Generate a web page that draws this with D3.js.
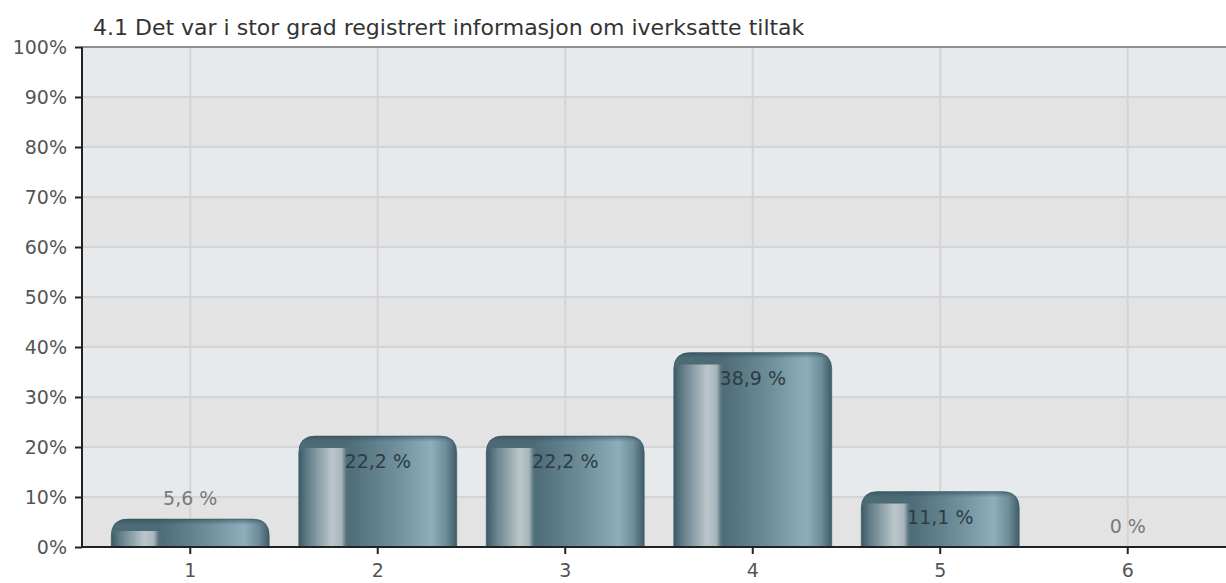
<!DOCTYPE html>
<html>
<head>
<meta charset="utf-8">
<script src="https://cdn.jsdelivr.net/npm/d3@7"></script>
<style>
  html, body { margin: 0; padding: 0; background: #fff; }
  #chart { width: 1226px; height: 583px; }
  text { font-family: "DejaVu Sans", sans-serif; }
</style>
</head>
<body>
<div id="chart"></div>
<script>
// chart data
const title = '4.1 Det var i stor grad registrert informasjon om iverksatte tiltak';
const categories = ['1', '2', '3', '4', '5', '6'];
const values = [5.6, 22.2, 22.2, 38.9, 11.1, 0];
const yTicks = [0, 10, 20, 30, 40, 50, 60, 70, 80, 90, 100];

const width = 1226;
const height = 583;
const plot = { left: 82, right: 1226, top: 47, bottom: 547 };

const svg = d3.select('#chart')
  .append('svg')
  .attr('width', width)
  .attr('height', height)
  .attr('viewBox', `0 0 ${width} ${height}`);

const defs = svg.append('defs');

// horizontal shading of the bars
const barGrad = defs.append('linearGradient')
  .attr('id', 'barGrad')
  .attr('x1', '0%').attr('x2', '100%').attr('y1', '0%').attr('y2', '0%');
[
  [0, '#3b5966'], [0.05, '#5f7a85'], [0.14, '#93a6ad'], [0.21, '#bac6ca'],
  [0.27, '#a8b6bb'], [0.30, '#56737e'], [0.32, '#4e6d79'], [0.6, '#6d8d99'],
  [0.84, '#8eaebb'], [0.93, '#6f8e9b'], [1, '#3f5c68'],
].forEach(([o, c]) => barGrad.append('stop').attr('offset', o).attr('stop-color', c));

// thin darker rim at the top of the bars
const capGrad = defs.append('linearGradient')
  .attr('id', 'capGrad')
  .attr('x1', '0%').attr('x2', '0%').attr('y1', '0%').attr('y2', '100%');
capGrad.append('stop').attr('offset', 0).attr('stop-color', '#2c4752').attr('stop-opacity', 0.6);
capGrad.append('stop').attr('offset', 1).attr('stop-color', '#3a5763').attr('stop-opacity', 0);

// scales
const x = d3.scaleBand()
  .domain(categories)
  .range([96.5, 1221.5])
  .paddingInner(0.157)
  .paddingOuter(0.0785);

const y = d3.scaleLinear()
  .domain([0, 100])
  .range([plot.bottom, plot.top]);

// background bands
const bands = yTicks.slice(0, -1).map((t, i) => ({ from: t, to: yTicks[i + 1], i }));
svg.append('g')
  .selectAll('rect')
  .data(bands)
  .enter()
  .append('rect')
  .attr('x', plot.left)
  .attr('width', plot.right - plot.left)
  .attr('y', d => y(d.to))
  .attr('height', d => y(d.from) - y(d.to))
  .attr('fill', d => (d.i % 2 === 0 ? '#e3e3e4' : '#e6eaed'));

// grid lines
const grid = svg.append('g').attr('class', 'grid');
grid.selectAll('line.h')
  .data(yTicks.slice(1, -1))
  .enter()
  .append('line')
  .attr('class', 'h')
  .attr('x1', plot.left)
  .attr('x2', plot.right)
  .attr('y1', d => y(d))
  .attr('y2', d => y(d))
  .attr('stroke', '#d4d4d6')
  .attr('stroke-width', 2);

grid.selectAll('line.v')
  .data(categories)
  .enter()
  .append('line')
  .attr('class', 'v')
  .attr('x1', d => x(d) + x.bandwidth() / 2)
  .attr('x2', d => x(d) + x.bandwidth() / 2)
  .attr('y1', plot.top)
  .attr('y2', plot.bottom)
  .attr('stroke', '#d4d4d6')
  .attr('stroke-width', 2);

// top border
svg.append('line')
  .attr('x1', plot.left)
  .attr('x2', plot.right)
  .attr('y1', plot.top)
  .attr('y2', plot.top)
  .attr('stroke', '#8e8e8e')
  .attr('stroke-width', 2);

// bars
function barPath(x0, y0, w, h) {
  const r = Math.min(17, h, w / 2);
  const y1 = y0 + h;
  return `M${x0},${y1} L${x0},${y0 + r} Q${x0},${y0} ${x0 + r},${y0} `
    + `L${x0 + w - r},${y0} Q${x0 + w},${y0} ${x0 + w},${y0 + r} L${x0 + w},${y1} Z`;
}

// dark piece above the left highlight, leaving the strip a rounded top-left corner
function stripCap(x0, y0, w, h) {
  const r = Math.min(9, h);
  return `M${x0},${y0 + h + r} L${x0},${y0} L${x0 + w},${y0} L${x0 + w},${y0 + h} `
    + `L${x0 + r},${y0 + h} Q${x0},${y0 + h} ${x0},${y0 + h + r} Z`;
}

const bw = x.bandwidth();
const barData = categories.map((c, i) => ({ cat: c, value: values[i] }))
  .filter(d => d.value > 0);

const barGroup = svg.append('g').attr('class', 'bars');
barData.forEach((d, i) => {
  const x0 = x(d.cat);
  const y0 = y(d.value);
  const h = y(0) - y0;
  const clipId = `clip-${i}`;
  defs.append('clipPath').attr('id', clipId)
    .append('path').attr('d', barPath(x0, y0, bw, h));

  const g = barGroup.append('g');
  g.append('path')
    .attr('d', barPath(x0, y0, bw, h))
    .attr('fill', 'url(#barGrad)');

  const capH = Math.min(12, h / 2);
  g.append('path')
    .attr('clip-path', `url(#${clipId})`)
    .attr('d', stripCap(x0, y0, bw * 0.31, capH))
    .attr('fill', '#4d6b77');

  g.append('rect')
    .attr('clip-path', `url(#${clipId})`)
    .attr('x', x0)
    .attr('y', y0)
    .attr('width', bw)
    .attr('height', 6)
    .attr('fill', 'url(#capGrad)');

  g.append('path')
    .attr('d', barPath(x0, y0, bw, h))
    .attr('fill', 'none')
    .attr('stroke', '#3a5562')
    .attr('stroke-opacity', 0.5)
    .attr('stroke-width', 1);
});

// value labels
svg.append('g')
  .selectAll('text')
  .data(categories.map((c, i) => ({ cat: c, value: values[i] })))
  .enter()
  .append('text')
  .attr('x', d => x(d.cat) + bw / 2)
  .attr('y', d => {
    const inside = y(0) - y(d.value) > 40;
    return inside ? y(d.value) + 32 : y(d.value) - 14;
  })
  .attr('text-anchor', 'middle')
  .attr('font-size', 19)
  .attr('fill', d => (y(0) - y(d.value) > 40 ? '#2e3c43' : '#7a7a7a'))
  .text(d => `${String(d.value).replace('.', ',')} %`);

// axes
const yAxis = d3.axisLeft(y)
  .tickValues(yTicks)
  .tickSize(7)
  .tickPadding(8)
  .tickFormat(d => `${d}%`);

const yAxisG = svg.append('g')
  .attr('class', 'axis y')
  .attr('transform', `translate(${plot.left}, 0)`)
  .call(yAxis);
yAxisG.select('.domain')
  .attr('stroke', '#222')
  .attr('stroke-width', 2)
  .attr('d', `M0,${plot.top}V${plot.bottom}`);
yAxisG.selectAll('.tick line').attr('stroke', '#222').attr('stroke-width', 2);
yAxisG.selectAll('.tick text')
  .attr('font-size', 19)
  .attr('fill', '#555')
  .attr('font-family', '"DejaVu Sans", sans-serif');

const xAxis = d3.axisBottom(x)
  .tickSize(7)
  .tickPadding(10);

const xAxisG = svg.append('g')
  .attr('class', 'axis x')
  .attr('transform', `translate(0, ${plot.bottom})`)
  .call(xAxis);
xAxisG.select('.domain')
  .attr('stroke', '#222')
  .attr('stroke-width', 2)
  .attr('d', `M${plot.left},0H${plot.right}`);
xAxisG.selectAll('.tick line').attr('stroke', '#222').attr('stroke-width', 2);
xAxisG.selectAll('.tick text')
  .attr('font-size', 19)
  .attr('fill', '#555')
  .attr('font-family', '"DejaVu Sans", sans-serif');

// title
svg.append('text')
  .attr('x', 93)
  .attr('y', 35)
  .attr('font-size', 22)
  .attr('fill', '#333')
  .text(title);
</script>
</body>
</html>
